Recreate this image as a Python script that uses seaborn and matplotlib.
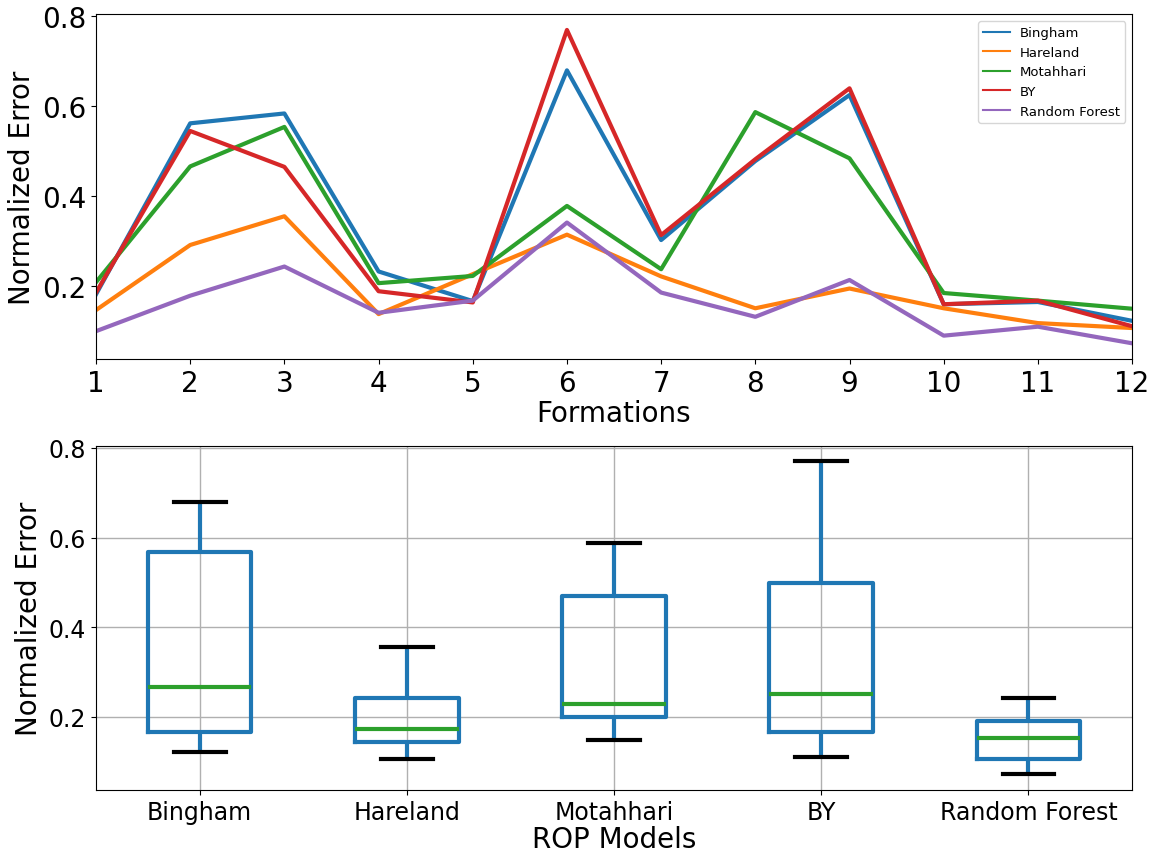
import numpy as np
import pandas as pd
import matplotlib
matplotlib.use("Agg")
import matplotlib.pyplot as plt
import seaborn as sns

# Normalized error of each ROP model for formations 1-12
formations = [1, 2, 3, 4, 5, 6, 7, 8, 9, 10, 11, 12]
models = ["Bingham", "Hareland", "Motahhari", "BY", "Random Forest"]

bingham = [0.181, 0.562, 0.584, 0.232, 0.166, 0.680, 0.302, 0.478, 0.625, 0.159, 0.164, 0.122]
hareland = [0.146, 0.291, 0.355, 0.137, 0.226, 0.314, 0.221, 0.150, 0.194, 0.150, 0.117, 0.106]
motahhari = [0.208, 0.466, 0.554, 0.206, 0.222, 0.378, 0.237, 0.587, 0.484, 0.184, 0.167, 0.149]
by_model = [0.185, 0.545, 0.465, 0.188, 0.163, 0.770, 0.313, 0.482, 0.640, 0.159, 0.167, 0.110]
random_forest = [0.099, 0.178, 0.243, 0.140, 0.167, 0.341, 0.185, 0.131, 0.213, 0.089, 0.109, 0.072]

series = [bingham, hareland, motahhari, by_model, random_forest]
colors = ["#1f77b4", "#ff7f0e", "#2ca02c", "#d62728", "#9467bd"]

df = pd.DataFrame({
    "Formation": np.tile(formations, len(models)),
    "Model": np.repeat(models, len(formations)),
    "Error": np.concatenate(series),
})

fig = plt.figure(figsize=(11.54, 8.54), dpi=100)
ax1 = fig.add_axes([0.0832, 0.5785, 0.8978, 0.4036])
ax2 = fig.add_axes([0.0832, 0.0738, 0.8978, 0.4031])

# Line chart of the error per formation
sns.lineplot(data=df, x="Formation", y="Error", hue="Model", hue_order=models,
             palette=colors, linewidth=3, ax=ax1, legend=True, errorbar=None)
ax1.set_xlim(1, 12)
ax1.set_xticks(formations)
ax1.set_xlabel("Formations", fontsize=20, labelpad=2)
ax1.set_ylabel("Normalized Error", fontsize=20)
ax1.tick_params(axis="both", labelsize=20)
ax1.set_yticks([0.2, 0.4, 0.6, 0.8])
handles, labels = ax1.get_legend_handles_labels()
leg = ax1.legend(handles, labels, loc="upper right", fontsize=9.5, frameon=True)
for line in leg.get_lines():
    line.set_linewidth(1.5)

# Box plot of the error distribution per model
sns.boxplot(data=df, x="Model", y="Error", order=models, ax=ax2,
            width=0.5, showfliers=False, fill=False, color="#1f77b4", linewidth=3,
            boxprops=dict(color="#1f77b4"),
            whiskerprops=dict(color="#1f77b4"),
            capprops=dict(color="black"),
            medianprops=dict(color="#2ca02c"))
ax2.grid(True, color="#b0b0b0", linewidth=1)
ax2.set_axisbelow(True)
ax2.set_yticks([0.2, 0.4, 0.6, 0.8])
ax2.set_xlabel("ROP Models", fontsize=20, labelpad=1)
ax2.set_ylabel("Normalized Error", fontsize=20)
ax2.tick_params(axis="both", labelsize=17)

fig.savefig("out.png", dpi=100)
